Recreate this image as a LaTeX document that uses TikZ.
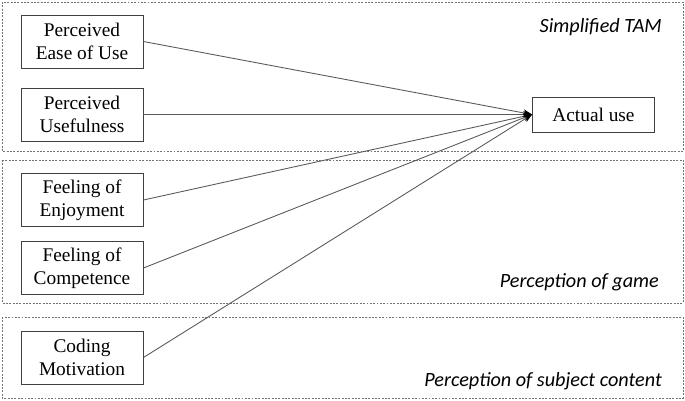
\documentclass[tikz,border=0pt]{standalone}
\usepackage{fontspec}
\setmainfont{Liberation Serif}
\newfontfamily\grouplabelfont{Carlito}
\usetikzlibrary{arrows.meta}
\tikzset{
  factor/.style={draw=black!75,line width=0.5pt,minimum width=24.4mm,minimum height=10.6mm,align=center,font=\fontsize{11}{13}\selectfont,inner sep=1pt},
  groupbox/.style={draw=black!55,line width=0.45pt,dash pattern=on 1.1pt off 0.8pt},
  grouplabel/.style={anchor=east,font=\grouplabelfont\itshape\fontsize{11.5}{13}\selectfont},
  path/.style={draw=black!65,line width=0.5pt,-{Stealth[length=5pt,width=4pt,black]}}
}
\begin{document}
\begin{tikzpicture}[x=0.2mm,y=-0.2mm]
\useasboundingbox (0,0) rectangle (685,400);
% groups
\draw[groupbox] (2,2) rectangle (683,151);
\draw[groupbox] (2,160) rectangle (683,303);
\draw[groupbox] (2,317) rectangle (683,398);
\node[grouplabel] (tamlabel) at (668,27) {Simplified TAM};
\node[grouplabel] (gamelabel) at (665,282) {Perception of game};
\node[grouplabel] (contentlabel) at (668,381) {Perception of subject content};

% factors
\node[factor] (peou) at (82,41.5) {Perceived\\Ease of Use};
\node[factor] (pu) at (82,114.5) {Perceived\\Usefulness};
\node[factor] (enjoy) at (82,200) {Feeling of\\Enjoyment};
\node[factor] (comp) at (82,268) {Feeling of\\Competence};
\node[factor] (coding) at (82,357.5) {Coding\\Motivation};
\node[factor,minimum height=7mm] (use) at (593.5,114.5) {Actual use};

\foreach \src in {peou,pu,enjoy,comp,coding}
    \draw[path] (\src.east) -- (use.west);
\end{tikzpicture}
\end{document}
